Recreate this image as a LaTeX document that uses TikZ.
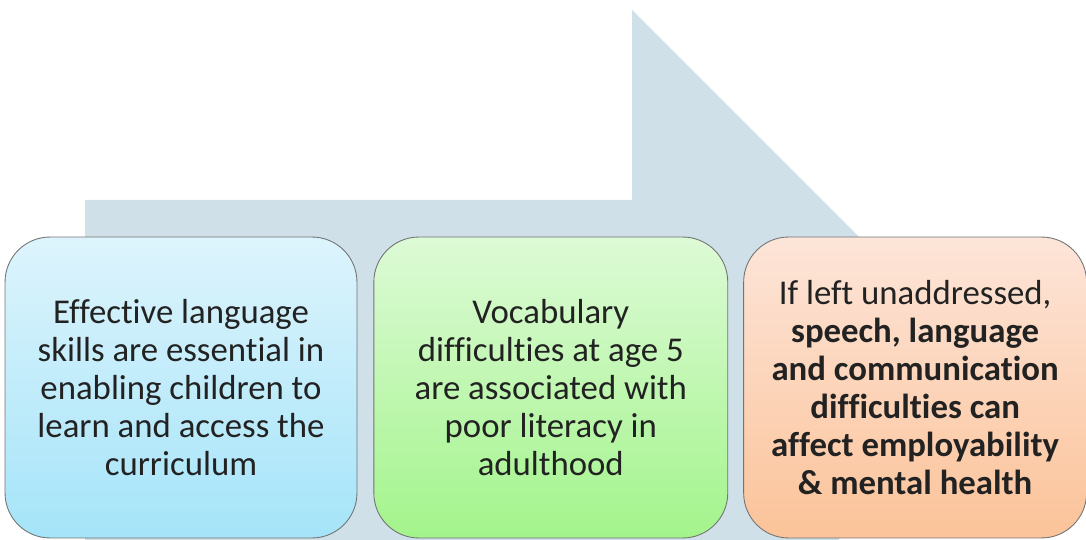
\documentclass[tikz,border=0pt]{standalone}
\usepackage{fontspec}
\setmainfont{Carlito}[Ligatures=NoCommon]
\usetikzlibrary{positioning}

\definecolor{arrowgrey}{HTML}{CFE0E8}
\definecolor{textgrey}{HTML}{222222}
\definecolor{bluetop}{HTML}{DDF4FC}
\definecolor{bluebot}{HTML}{A5E4F9}
\definecolor{greentop}{HTML}{DDFAD6}
\definecolor{greenbot}{HTML}{A3F48C}
\definecolor{orangetop}{HTML}{FDE5D9}
\definecolor{orangebot}{HTML}{FBC399}

\begin{document}
\begin{tikzpicture}[x=0.02cm,y=-0.02cm,node distance=0.32cm,
	box/.style={draw=black!55,line width=0.5pt,rounded corners=0.9cm,minimum height=6.02cm,
		inner sep=0pt,align=center,text=textgrey,font=\fontsize{19.8}{21.6}\selectfont}]
		
		\useasboundingbox (0,0) rectangle (1086,540);
		
		% Background arrow
		\begin{scope}
			\clip (0,0) rectangle (1086,540);
			\fill[arrowgrey] (85,200) -- (632,200) -- (632,10) -- (1000,378) -- (632,746) -- (85,746) -- cycle;
		\end{scope}
		
		% Box 1 (skills)
		\node[box, top color=bluetop, bottom color=bluebot, minimum width=7.04cm] (skills) at (181,387.5)
			{Effective language\\ skills are essential in\\ enabling children to\\ learn and access the\\ curriculum};
		
		% Box 2 (vocabulary)
		\node[box, top color=greentop, bottom color=greenbot, minimum width=7.08cm, right=of skills] (vocab)
			{Vocabulary\\ difficulties at age 5\\ are associated with\\ poor literacy in\\ adulthood};
		
		% Box 3 (impact)
		\node[box, top color=orangetop, bottom color=orangebot, minimum width=6.86cm, right=0.3cm of vocab] (impact)
			{If left unaddressed,\\ \textbf{speech, language}\\ \textbf{and communication}\\ \textbf{difficulties can}\\ \textbf{affect employability}\\ \textbf{\& mental health}};
	\end{tikzpicture}
\end{document}
